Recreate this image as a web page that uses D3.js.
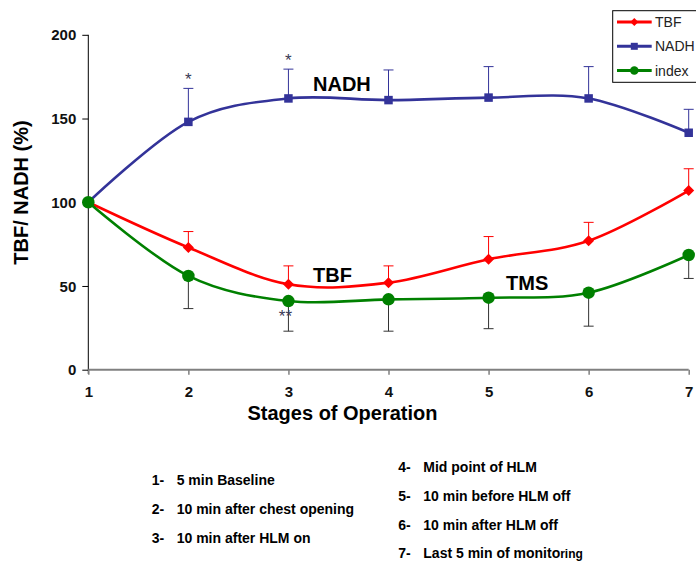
<!DOCTYPE html>
<html>
<head>
<meta charset="utf-8">
<script src="https://cdn.jsdelivr.net/npm/d3@7"></script>
<style>
  html, body { margin: 0; padding: 0; background: #fff; }
  svg { display: block; font-family: "Liberation Sans", Arial, sans-serif; }
</style>
</head>
<body>
<svg id="chart" width="696" height="564"></svg>
<script>
// Stages of operation (x categories)
const stages = [1, 2, 3, 4, 5, 6, 7];
const yTicks = [0, 50, 100, 150, 200];

// Percent of baseline for each stage
const tbf      = [100, 73, 51, 52, 66, 77, 107];
const tbfErr   = [0, 9.5, 11, 10, 13.5, 11, 13];
const nadh     = [100, 148, 162, 161, 162.5, 162, 141.5];
const nadhErr  = [0, 20, 17.5, 18, 18.5, 19, 14];
const index    = [100, 56, 41, 42, 43, 46, 68.5];
const indexErr = [0, 19.5, 18, 19, 18.5, 20, 14];

// Significance marks: [stage, value the mark sits at, text]
const marks = [
  [2, 168, "*"],
  [3, 179.5, "*"],
  [3, 41, "**"]
];

const stageNotes = [
  "5 min Baseline",
  "10 min after chest opening",
  "10 min after HLM on",
  "Mid point of HLM",
  "10 min before HLM off",
  "10 min after HLM off",
  "Last 5 min of monito"
];

const svg = d3.select("#chart");
const x = d3.scaleLinear().domain([1, 7]).range([88.3, 688.7]);
const y = d3.scaleLinear().domain([0, 200]).range([369.7, 34.8]);

const series = [
  { name: "NADH",  vals: nadh,  err: nadhErr,  dir: 1,  color: "#333399", errColor: "#333399", shape: "square" },
  { name: "TBF",   vals: tbf,   err: tbfErr,   dir: 1,  color: "#ff0000", errColor: "#ff0000", shape: "diamond" },
  { name: "index", vals: index, err: indexErr, dir: -1, color: "#008000", errColor: "#333333", shape: "circle" }
];

// Y axis (black) with ticks on the left
const yAxis = svg.append("g").attr("transform", "translate(88.3,0)")
  .call(d3.axisLeft(y).tickValues(yTicks).tickSize(6).tickPadding(6).tickSizeOuter(0));
yAxis.select(".domain").remove();
yAxis.append("line").attr("x1", 0).attr("x2", 0).attr("y1", y(200)).attr("y2", 374)
  .attr("stroke", "#000").attr("stroke-width", 1);
yAxis.selectAll(".tick line").attr("stroke", "#000");
yAxis.selectAll(".tick text")
  .attr("font-family", "Liberation Sans, Arial, sans-serif")
  .attr("font-size", 15).attr("font-weight", "bold").attr("fill", "#111")
  .attr("dy", "0.34em");

// X axis (grey)
const xAxis = svg.append("g").attr("transform", `translate(0,${y(0)})`)
  .call(d3.axisBottom(x).tickValues(stages).tickFormat(d3.format("d")).tickSize(5).tickPadding(12).tickSizeOuter(0));
xAxis.select(".domain").attr("stroke", "#808080").attr("stroke-width", 2)
  .attr("d", `M${x(1)},0H${x(7)}`);
xAxis.selectAll(".tick line").attr("stroke", "#808080").attr("stroke-width", 1.5);
xAxis.selectAll(".tick text")
  .attr("font-family", "Liberation Sans, Arial, sans-serif")
  .attr("font-size", 15).attr("font-weight", "bold").attr("fill", "#111");

// Error bars
series.forEach(s => {
  const g = svg.append("g").attr("stroke", s.errColor).attr("stroke-width", 1).attr("fill", "none");
  stages.forEach((st, i) => {
    if (!s.err[i]) return;
    const y0 = y(s.vals[i]);
    const y1 = y(s.vals[i] + s.dir * s.err[i]);
    g.append("line").attr("x1", x(st)).attr("x2", x(st)).attr("y1", y0).attr("y2", y1);
    g.append("line").attr("x1", x(st) - 5).attr("x2", x(st) + 5).attr("y1", y1).attr("y2", y1);
  });
});

// Smoothed lines
const line = d3.line().x((d, i) => x(stages[i])).y(d => y(d)).curve(d3.curveCardinal.tension(0));
series.forEach(s => {
  svg.append("path").attr("d", line(s.vals)).attr("fill", "none")
    .attr("stroke", s.color).attr("stroke-width", 2.6).attr("stroke-linejoin", "round");
});

function marker(g, shape, cx, cy, size, color) {
  if (shape === "square") {
    g.append("rect").attr("x", cx - size / 2).attr("y", cy - size / 2)
      .attr("width", size).attr("height", size).attr("fill", color);
  } else if (shape === "diamond") {
    const h = size / 2 + 1;
    g.append("path").attr("d", `M${cx},${cy - h}L${cx + h},${cy}L${cx},${cy + h}L${cx - h},${cy}Z`).attr("fill", color);
  } else {
    g.append("circle").attr("cx", cx).attr("cy", cy).attr("r", size / 2).attr("fill", color);
  }
}

// Markers
series.forEach(s => {
  const g = svg.append("g");
  const size = s.shape === "circle" ? 12.5 : (s.shape === "diamond" ? 9 : 8.5);
  stages.forEach((st, i) => marker(g, s.shape, x(st), y(s.vals[i]), size, s.color));
});

// Significance asterisks
svg.append("g").selectAll("text").data(marks).join("text")
  .attr("x", d => d[2] === "**" ? x(d[0]) - 3 : x(d[0]))
  .attr("y", (d, i) => i === 2 ? 322 : y(d[1]) - 3)
  .attr("text-anchor", "middle")
  .attr("font-size", 17).attr("fill", "#3a3a55")
  .text(d => d[2]);

// In-plot series labels
const labelFont = { "font-size": 20, "font-weight": "bold", fill: "#000" };
[["NADH", 313, 90.7], ["TBF", 313, 281.7], ["TMS", 506, 290]].forEach(([t, lx, ly]) => {
  const tx = svg.append("text").attr("x", lx).attr("y", ly).text(t);
  Object.entries(labelFont).forEach(([k, v]) => tx.attr(k, v));
});

// Axis titles
svg.append("text")
  .attr("transform", "translate(28,192.5) rotate(-90)")
  .attr("text-anchor", "middle").attr("font-size", 20).attr("font-weight", "bold")
  .text("TBF/ NADH (%)");
svg.append("text")
  .attr("x", 342.5).attr("y", 420).attr("text-anchor", "middle")
  .attr("font-size", 20).attr("font-weight", "bold")
  .text("Stages of Operation");

// Legend
const legendItems = [
  { name: "TBF",   color: "#ff0000", shape: "diamond", size: 6 },
  { name: "NADH",  color: "#333399", shape: "square",  size: 7 },
  { name: "index", color: "#008000", shape: "circle",  size: 8.5 }
];
const lg = svg.append("g");
lg.append("rect").attr("x", 612.7).attr("y", 10.7).attr("width", 100).attr("height", 71.6)
  .attr("fill", "#fff").attr("stroke", "#000").attr("stroke-width", 1);
legendItems.forEach((d, i) => {
  const cy = 22 + i * 24.3;
  lg.append("line").attr("x1", 617).attr("x2", 651.7).attr("y1", cy).attr("y2", cy)
    .attr("stroke", d.color).attr("stroke-width", 3);
  marker(lg, d.shape, 634.3, cy, d.size, d.color);
  lg.append("text").attr("x", 655).attr("y", cy + 5).attr("font-size", 14).attr("fill", "#222").text(d.name);
});

// Stage descriptions
const notePos = [
  [151.7, 485], [151.7, 514], [151.7, 543],
  [398.3, 471.7], [398.3, 500.7], [398.3, 530], [398.3, 558.3]
];
const notes = svg.append("g").attr("font-size", 14).attr("font-weight", "bold").attr("fill", "#000");
stageNotes.forEach((t, i) => {
  const [nx, ny] = notePos[i];
  notes.append("text").attr("x", nx).attr("y", ny).text(`${stages[i]}-`);
  const tt = notes.append("text").attr("x", nx + 25).attr("y", ny).text(t);
  if (i === 6) tt.append("tspan").attr("font-size", 12).text("ring");
});
</script>
</body>
</html>
